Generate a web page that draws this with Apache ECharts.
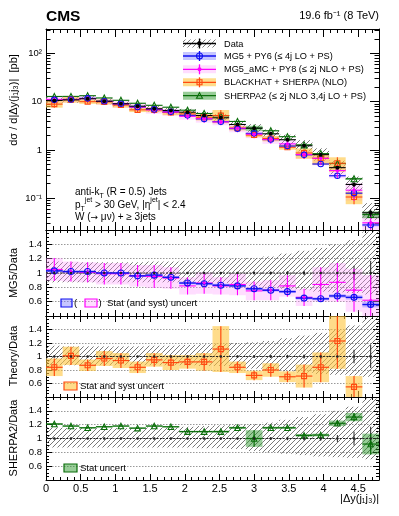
<!DOCTYPE html>
<html>
<head>
<meta charset="utf-8">
<title>W + 3 jets, |dy(j1,j3)|</title>
<script src="https://cdn.jsdelivr.net/npm/echarts@6/dist/echarts.min.js"></script>
<style>html,body{margin:0;padding:0;background:#fff;}</style>
</head>
<body>
<div id="main" style="width:399px;height:516px;"></div>
<script>
// bin edges of |dy(j1,j3)|
const binEdges = [0, 0.24, 0.48, 0.72, 0.96, 1.2, 1.44, 1.68, 1.92, 2.16, 2.4, 2.64, 2.88, 3.12, 3.36, 3.6, 3.84, 4.08, 4.32, 4.56, 4.8];

// measured cross section [pb] and relative uncertainties
const dataXsec = [10.6, 10.9, 11.5, 10.2, 9.05, 8.07, 7.13, 6.57, 6.06, 5.18, 4.64, 3.37, 2.83, 2.16, 1.63, 1.22, 0.80, 0.43, 0.193, 0.05];
const dataStat = [0.01, 0.01, 0.01, 0.01, 0.01, 0.01, 0.01, 0.01, 0.012, 0.012, 0.015, 0.015, 0.02, 0.02, 0.025, 0.03, 0.035, 0.05, 0.1, 0.17];
const dataSystUp = [0.16, 0.15, 0.15, 0.15, 0.15, 0.15, 0.16, 0.16, 0.17, 0.18, 0.19, 0.2, 0.21, 0.23, 0.27, 0.31, 0.35, 0.4, 0.46, 0.58];
const dataSystDown = [0.13, 0.13, 0.13, 0.13, 0.13, 0.13, 0.13, 0.13, 0.13, 0.14, 0.14, 0.15, 0.18, 0.2, 0.22, 0.24, 0.26, 0.27, 0.28, 0.3];

// predictions / data
const mg5Ratio = [1.03, 1.02, 1.02, 1.0, 1.0, 0.96, 0.97, 0.94, 0.86, 0.85, 0.83, 0.82, 0.78, 0.76, 0.74, 0.65, 0.64, 0.68, 0.66, 0.56];
const mg5Stat = [0.015, 0.015, 0.015, 0.015, 0.015, 0.015, 0.015, 0.015, 0.02, 0.02, 0.02, 0.02, 0.02, 0.02, 0.02, 0.02, 0.02, 0.025, 0.03, 0.04];
const amcRatio = [1.05, 1.02, 1.01, 0.99, 0.99, 0.96, 0.95, 0.93, 0.82, 0.86, 0.82, 0.84, 0.75, 0.76, 0.82, 0.66, 0.84, 0.87, 0.76, 0.62];
const amcErr = [0.16, 0.14, 0.14, 0.15, 0.15, 0.15, 0.16, 0.15, 0.12, 0.15, 0.12, 0.15, 0.13, 0.14, 0.15, 0.12, 0.24, 0.27, 0.3, 0.35];
const bhRatio = [0.84, 1.01, 0.87, 0.97, 0.94, 0.84, 0.95, 0.91, 0.92, 0.92, 1.11, 0.84, 0.72, 0.8, 0.7, 0.71, 0.84, 1.23, 0.55, null];
const bhErr = [0.13, 0.135, 0.085, 0.11, 0.11, 0.085, 0.1, 0.11, 0.1, 0.13, 0.34, 0.085, 0.07, 0.1, 0.08, 0.17, 0.22, 0.41, 0.16, null];
const sherpaRatio = [1.21, 1.18, 1.155, 1.17, 1.18, 1.15, 1.18, 1.17, 1.1, 1.1, 1.1, 1.155, 1.0, 1.155, 1.155, 1.045, 1.05, 1.22, 1.31, 0.92];
const sherpaStat = [0.01, 0.01, 0.01, 0.01, 0.01, 0.01, 0.01, 0.01, 0.012, 0.012, 0.015, 0.015, 0.12, 0.015, 0.015, 0.02, 0.02, 0.04, 0.06, 0.15];

const FONT = '"Liberation Sans", Arial, sans-serif';
const BLUE = '#1010f0', BLUE_BAND = 'rgba(120,120,255,0.42)';
const MAG = '#ff00ff', MAG_BAND = 'rgba(255,150,255,0.32)';
const ORA = '#ff4a10', ORA_BAND = 'rgba(255,196,60,0.6)';
const GRN = '#0a6e0a', GRN_BAND = 'rgba(40,150,40,0.48)';

function hatch() {
    const c = document.createElement('canvas');
    c.width = 5; c.height = 5;
    const ctx = c.getContext('2d');
    ctx.strokeStyle = '#555';
    ctx.lineWidth = 0.8;
    ctx.beginPath();
    ctx.moveTo(-1, 6); ctx.lineTo(6, -1);
    ctx.moveTo(-1, 1); ctx.lineTo(1, -1);
    ctx.moveTo(4, 6); ctx.lineTo(6, 4);
    ctx.stroke();
    return { image: c, repeat: 'repeat' };
}
const HATCH = hatch();

// rows [xlo, xhi, y, lo, hi]
function rows(center, lo, hi) {
    const out = [];
    for (let i = 0; i < center.length; i++) {
        if (center[i] == null) continue;
        out.push([binEdges[i], binEdges[i + 1], center[i], lo[i], hi[i]]);
    }
    return out;
}
function absRows(ratio, err) {
    return rows(ratio.map((r, i) => r == null ? null : r * dataXsec[i]),
        ratio.map((r, i) => r == null ? null : (r - err[i]) * dataXsec[i]),
        ratio.map((r, i) => r == null ? null : (r + err[i]) * dataXsec[i]));
}
function ratioRows(ratio, err) {
    return rows(ratio, ratio.map((r, i) => r == null ? null : r - err[i]), ratio.map((r, i) => r == null ? null : r + err[i]));
}
function centers(rs) {
    return rs.map(r => [(r[0] + r[1]) / 2, r[2]]);
}

function boxSeries(gi, data, fill, z) {
    return {
        type: 'custom', xAxisIndex: gi * 2, yAxisIndex: gi * 2, z: z || 2, silent: true, data: data,
        renderItem: (params, api) => {
            const p1 = api.coord([api.value(0), api.value(4)]);
            const p2 = api.coord([api.value(1), api.value(3)]);
            const cs = params.coordSys;
            const r = echarts.graphic.clipRectByRect(
                { x: p1[0], y: p1[1], width: p2[0] - p1[0], height: p2[1] - p1[1] },
                { x: cs.x, y: cs.y, width: cs.width, height: cs.height });
            if (!r) return;
            return { type: 'rect', shape: r, style: { fill: fill } };
        }
    };
}

function barSeries(gi, data, color, width, dash, z) {
    return {
        type: 'custom', xAxisIndex: gi * 2, yAxisIndex: gi * 2, z: z || 4, silent: true, data: data,
        renderItem: (params, api) => {
            const cs = params.coordSys;
            const top = cs.y, bot = cs.y + cs.height;
            const a = api.coord([api.value(0), api.value(2)]);
            const b = api.coord([api.value(1), api.value(2)]);
            const xc = (a[0] + b[0]) / 2;
            const lo = api.coord([0, api.value(3)])[1];
            const hi = api.coord([0, api.value(4)])[1];
            const kids = [];
            if (a[1] >= top && a[1] <= bot) {
                kids.push({ type: 'line', shape: { x1: a[0], y1: a[1], x2: b[0], y2: b[1] },
                    style: { stroke: color, lineWidth: width, lineDash: dash || null } });
            }
            const y1 = Math.max(top, Math.min(bot, hi));
            const y2 = Math.max(top, Math.min(bot, isNaN(lo) ? bot : lo));
            if (y2 > y1) {
                kids.push({ type: 'line', shape: { x1: xc, y1: y1, x2: xc, y2: y2 },
                    style: { stroke: color, lineWidth: width } });
            }
            return { type: 'group', children: kids };
        }
    };
}

function markSeries(gi, data, symbol, size, color, filled, z) {
    return {
        type: 'scatter', xAxisIndex: gi * 2, yAxisIndex: gi * 2, z: z || 6, silent: true,
        symbol: symbol, symbolSize: size, data: data,
        itemStyle: { color: filled ? color : 'rgba(255,255,255,0)', borderColor: color, borderWidth: filled ? 0 : 1.1, opacity: 1 }
    };
}

const grids = [
    { left: 46, width: 333, top: 29, height: 201 },
    { left: 46, width: 333, top: 230, height: 86 },
    { left: 46, width: 333, top: 316, height: 81 },
    { left: 46, width: 333, top: 397, height: 83 }
];

const xAxes = [], yAxes = [];
grids.forEach((g, gi) => {
    ['bottom', 'top'].forEach(pos => {
        xAxes.push({
            type: 'value', gridIndex: gi, position: pos, min: 0, max: 4.8, interval: 0.5,
            axisLine: { show: true, onZero: false, lineStyle: { color: '#000', width: 1 } },
            axisTick: { show: true, inside: true, length: gi === 0 ? 8 : 6, lineStyle: { color: '#000' } },
            minorTick: { show: true, splitNumber: 5, length: gi === 0 ? 4 : 3, lineStyle: { color: '#000' } },
            axisLabel: { show: gi === 3 && pos === 'bottom', fontFamily: FONT, fontSize: 11, color: '#000', margin: 3,
                showMaxLabel: false },
            splitLine: { show: false }
        });
    });
    ['left', 'right'].forEach(pos => {
        if (gi === 0) {
            yAxes.push({
                type: 'log', logBase: 10, gridIndex: gi, position: pos, min: 0.022, max: 320,
                axisLine: { show: true, onZero: false, lineStyle: { color: '#000', width: 1 } },
                axisTick: { show: true, inside: true, length: 9, lineStyle: { color: '#000' } },
                minorTick: { show: true, splitNumber: 9, length: 4.5, lineStyle: { color: '#000' } },
                axisLabel: {
                    show: pos === 'left', fontFamily: FONT, fontSize: 9.5, color: '#000', margin: 4,
                    formatter: v => {
                        const e = Math.round(Math.log10(v));
                        if (Math.abs(Math.log10(v) - e) > 1e-6) return '';
                        return { '-1': '10\u207b\u00b9', '0': '1', '1': '10', '2': '10\u00b2' }[e] || '';
                    }
                },
                splitLine: { show: false }
            });
        } else {
            yAxes.push({
                type: 'value', gridIndex: gi, position: pos, min: 0.4, max: 1.6, interval: 0.2,
                axisLine: { show: true, onZero: false, lineStyle: { color: '#000', width: 1 } },
                axisTick: { show: true, inside: true, length: 6, lineStyle: { color: '#000' } },
                minorTick: { show: true, splitNumber: 4, length: 3, lineStyle: { color: '#000' } },
                axisLabel: {
                    show: pos === 'left', fontFamily: FONT, fontSize: 9.5, color: '#000', margin: 4,
                    formatter: v => (v < 0.5 || v > 1.5) ? '' : String(Math.round(v * 10) / 10)
                },
                splitLine: { show: pos === 'left', lineStyle: { color: '#999', type: [1.5, 1.5], width: 1 } }
            });
        }
    });
});

// ---- series ----
const dataAbs = rows(dataXsec, dataXsec.map((v, i) => v * (1 - dataStat[i])), dataXsec.map((v, i) => v * (1 + dataStat[i])));
const dataAbsSyst = rows(dataXsec, dataXsec.map((v, i) => v * (1 - dataSystDown[i])), dataXsec.map((v, i) => v * (1 + dataSystUp[i])));
const ones = dataXsec.map(() => 1);
const dataRat = rows(ones, dataStat.map(e => 1 - e), dataStat.map(e => 1 + e));
const dataRatSyst = rows(ones, dataSystDown.map(e => 1 - e), dataSystUp.map(e => 1 + e));

const mg5Abs = absRows(mg5Ratio, mg5Stat), amcAbs = absRows(amcRatio, amcErr);
const bhAbs = absRows(bhRatio, bhErr), shAbs = absRows(sherpaRatio, sherpaStat);
const mg5Rat = ratioRows(mg5Ratio, mg5Stat), amcRat = ratioRows(amcRatio, amcErr);
const bhRat = ratioRows(bhRatio, bhErr), shRat = ratioRows(sherpaRatio, sherpaStat);

const series = [
    // top panel
    boxSeries(0, dataAbsSyst, HATCH, 1),
    boxSeries(0, mg5Abs, BLUE_BAND), boxSeries(0, amcAbs, MAG_BAND),
    boxSeries(0, bhAbs, ORA_BAND), boxSeries(0, shAbs, GRN_BAND),
    barSeries(0, shAbs, GRN, 1.1), barSeries(0, bhAbs, ORA, 1.1),
    barSeries(0, mg5Abs, BLUE, 1.1), barSeries(0, amcAbs, MAG, 1.1),
    barSeries(0, dataAbs, '#000', 1.1, null, 5),
    markSeries(0, centers(shAbs), 'triangle', 6, GRN, false),
    markSeries(0, centers(bhAbs), 'rect', 5, ORA, false),
    markSeries(0, centers(mg5Abs), 'circle', 5.5, BLUE, false),
    markSeries(0, centers(amcAbs), 'diamond', 4.5, MAG, true),
    markSeries(0, centers(dataAbs), 'circle', 4, '#000', true, 7),

    // MG5 / data
    boxSeries(1, dataRatSyst, HATCH, 1),
    boxSeries(1, amcRat, MAG_BAND), boxSeries(1, mg5Rat, BLUE_BAND),
    barSeries(1, dataRat, '#222', 1, [2, 1.5], 3),
    barSeries(1, amcRat, MAG, 1.1), barSeries(1, mg5Rat, BLUE, 1.4),
    markSeries(1, centers(amcRat), 'diamond', 3.5, MAG, true),
    markSeries(1, centers(mg5Rat), 'circle', 6, BLUE, false),
    markSeries(1, centers(dataRat), 'circle', 2.5, '#222', true),

    // Theory / data
    boxSeries(2, dataRatSyst, HATCH, 1),
    boxSeries(2, bhRat, ORA_BAND),
    barSeries(2, dataRat, '#222', 1, [2, 1.5], 3),
    barSeries(2, bhRat, ORA, 1.2),
    markSeries(2, centers(bhRat), 'rect', 5, ORA, false),
    markSeries(2, centers(dataRat), 'circle', 2.5, '#222', true),

    // SHERPA2 / data
    boxSeries(3, dataRatSyst, HATCH, 1),
    boxSeries(3, shRat, GRN_BAND),
    barSeries(3, dataRat, '#222', 1, [2, 1.5], 3),
    barSeries(3, shRat, GRN, 1.2),
    markSeries(3, centers(shRat), 'triangle', 5.5, GRN, false),
    markSeries(3, centers(dataRat), 'circle', 2.5, '#222', true)
];

// ---- texts and legends ----
const txt = (x, y, text, size, extra) => Object.assign({
    type: 'text', x: x, y: y, z: 100, silent: true,
    style: Object.assign({ text: text, fontFamily: FONT, fontSize: size, fill: '#000', verticalAlign: 'middle' }, (extra && extra.style) || {})
}, extra && extra.rotation ? { rotation: extra.rotation } : {});

const rich = {
    sub: { fontFamily: FONT, fontSize: 7, verticalAlign: 'bottom', lineHeight: 8, padding: [0, 0, -3, 0] },
    sup: { fontFamily: FONT, fontSize: 7, verticalAlign: 'top', lineHeight: 8, padding: [-3, 0, 0, 0] },
    arr: { fontFamily: '"DejaVu Sans", sans-serif', fontSize: 9 }
};

function legendRow(y, fill, stroke, symbol, text, errBar) {
    const g = [];
    g.push({ type: 'rect', z: 100, shape: { x: 183, y: y - 4, width: 33, height: 8 }, style: { fill: fill } });
    g.push({ type: 'line', z: 101, shape: { x1: 183, y1: y, x2: 216, y2: y }, style: { stroke: stroke, lineWidth: 1.3 } });
    if (errBar) g.push({ type: 'line', z: 101, shape: { x1: 199.5, y1: y - 5, x2: 199.5, y2: y + 5 }, style: { stroke: stroke, lineWidth: 1.3 } });
    g.push(symbol);
    g.push(txt(224, y + 0.5, text, 9.2));
    return g;
}

const graphics = [].concat(
    [txt(46, 17, 'CMS', 15.5, { style: { fontWeight: 'bold' } }),
     txt(379, 16, '19.6 fb\u207b\u00b9 (8 TeV)', 11, { style: { align: 'right' } }),
     txt(14, 100, 'd\u03c3 / d|\u0394y(j\u2081j\u2083)|  [pb]', 11, { rotation: Math.PI / 2, style: { align: 'center' } }),
     txt(14, 273, 'MG5/Data', 11, { rotation: Math.PI / 2, style: { align: 'center' } }),
     txt(14, 356, 'Theory/Data', 11, { rotation: Math.PI / 2, style: { align: 'center' } }),
     txt(14, 438, 'SHERPA2/Data', 11, { rotation: Math.PI / 2, style: { align: 'center' } }),
     txt(379, 499, '|\u0394y(j\u2081j\u2083)|', 11, { style: { align: 'right' } }),
     txt(75, 192, 'anti-k{sub|T} (R = 0.5) Jets', 10, { style: { rich: rich } }),
     txt(75, 205, 'p{sub|T}{sup|jet} > 30 GeV, |\u03b7{sup|jet}| < 2.4', 10, { style: { rich: rich } }),
     txt(75, 217.5, 'W ({arr|\u2192} \u03bc\u03bd) + \u2265 3jets', 10, { style: { rich: rich } })],
    legendRow(43.5, HATCH, '#000', { type: 'circle', z: 102, shape: { cx: 199.5, cy: 43.5, r: 2.2 }, style: { fill: '#000' } }, 'Data', true),
    legendRow(56, BLUE_BAND, BLUE, { type: 'circle', z: 102, shape: { cx: 199.5, cy: 56, r: 3 }, style: { fill: 'rgba(0,0,0,0)', stroke: BLUE, lineWidth: 1.1 } }, 'MG5 + PY6 (\u2264 4j LO + PS)', true),
    legendRow(69.3, MAG_BAND, MAG, { type: 'circle', z: 102, shape: { cx: 199.5, cy: 69.3, r: 2 }, style: { fill: MAG } }, 'MG5_aMC + PY8 (\u2264 2j NLO + PS)', true),
    legendRow(82.3, ORA_BAND, ORA, { type: 'rect', z: 102, shape: { x: 197, y: 79.8, width: 5, height: 5 }, style: { fill: 'rgba(0,0,0,0)', stroke: ORA, lineWidth: 1.1 } }, 'BLACKHAT + SHERPA (NLO)', true),
    legendRow(95.7, GRN_BAND, GRN, { type: 'polygon', z: 102, shape: { points: [[199.5, 92.7], [202.5, 98.2], [196.5, 98.2]] }, style: { fill: 'rgba(0,0,0,0)', stroke: GRN, lineWidth: 1.1 } }, 'SHERPA2 (\u2264 2j NLO 3,4j LO + PS)', false),
    [
        { type: 'rect', z: 100, shape: { x: 61, y: 299, width: 11, height: 8 }, style: { fill: BLUE_BAND, stroke: BLUE, lineWidth: 1.2 } },
        txt(74, 303, '(', 9.5),
        { type: 'rect', z: 100, shape: { x: 85, y: 299, width: 12, height: 8 }, style: { fill: MAG_BAND, stroke: MAG, lineWidth: 1.2 } },
        txt(98.5, 303, ')  Stat (and syst) uncert', 9.5),
        { type: 'rect', z: 100, shape: { x: 64, y: 382, width: 13, height: 8 }, style: { fill: ORA_BAND, stroke: ORA, lineWidth: 1.2 } },
        txt(80, 386, 'Stat and syst uncert', 9.5),
        { type: 'rect', z: 100, shape: { x: 64, y: 464, width: 13, height: 8 }, style: { fill: GRN_BAND, stroke: GRN, lineWidth: 1.2 } },
        txt(80, 468, 'Stat uncert', 9.5)
    ]
);

const myChart = echarts.init(document.getElementById('main'));
myChart.setOption({
    animation: false,
    backgroundColor: '#fff',
    grid: grids.map(g => Object.assign({ show: false }, g)),
    xAxis: xAxes,
    yAxis: yAxes,
    series: series,
    graphic: graphics
});
</script>
</body>
</html>
